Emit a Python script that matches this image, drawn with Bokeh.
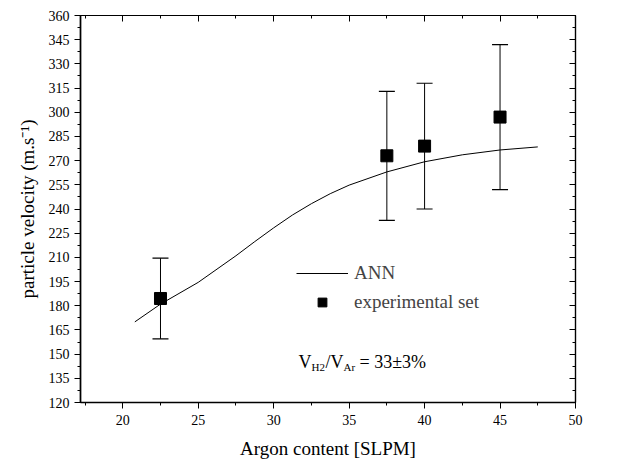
from bokeh.plotting import figure
from bokeh.models import (Range1d, LinearAxis, SingleIntervalTicker, Whisker, TeeHead,
                          ColumnDataSource, Legend, LegendItem, Label, CustomJSTickFormatter)
from bokeh.embed import file_html
from bokeh.resources import INLINE

# ---- data ----
ann_x = [20.8, 22.5, 25.0, 27.5, 28.75, 30.0, 31.25, 32.5, 33.75, 35.0, 37.5, 40.0, 42.5, 45.0, 47.5]
ann_y = [170.0, 181.0, 194.5, 211.0, 219.8, 228.3, 236.3, 243.3, 249.5, 254.8, 263.0, 269.3, 273.6, 276.6, 278.5]
exp_x = [22.5, 37.5, 40.0, 45.0]
exp_y = [184.5, 273.0, 279.0, 297.0]
exp_err = [25.0, 40.0, 39.0, 45.0]

X0, X1 = 17.2, 50.0
Y0, Y1 = 120.0, 360.0
FONT = "Liberation Serif"

W, H = 642, 466
FL, FR, FT, FB = 80, 575, 15, 402

p = figure(width=W, height=H, output_backend="svg", toolbar_location=None,
           x_range=Range1d(X0, X1), y_range=Range1d(Y0, Y1),
           min_border_left=FL, min_border_right=W - FR,
           min_border_top=FT, min_border_bottom=H - FB,
           x_axis_label="Argon content [SLPM]",
           y_axis_label="particle velocity (m.s\u207b\u00b9)")
p.grid.visible = False
p.outline_line_color = "black"
p.outline_line_width = 1.2
p.background_fill_color = "white"
p.border_fill_color = "white"

p.xaxis.ticker = SingleIntervalTicker(interval=5, num_minor_ticks=2)
p.yaxis.ticker = SingleIntervalTicker(interval=15, num_minor_ticks=2)

for ax in (p.xaxis[0], p.yaxis[0]):
    ax.axis_line_width = 1.6
    ax.axis_line_color = "black"
    ax.major_tick_line_color = "black"
    ax.minor_tick_line_color = "black"
    ax.major_tick_in = 0
    ax.major_tick_out = 6
    ax.minor_tick_in = 0
    ax.minor_tick_out = 3
    ax.major_label_text_font = FONT
    ax.major_label_text_font_size = "14px"
    ax.major_label_text_color = "black"
    ax.axis_label_text_font = FONT
    ax.axis_label_text_font_size = "19px"
    ax.axis_label_text_font_style = "normal"
    ax.axis_label_text_color = "black"
p.xaxis.axis_label_standoff = 10
p.yaxis.axis_label_standoff = 8
p.xaxis.major_label_standoff = 6

for loc in ("above", "right"):
    ax = LinearAxis(ticker=SingleIntervalTicker(interval=(5 if loc == "above" else 15), num_minor_ticks=2),
                    formatter=CustomJSTickFormatter(code="return ''"))
    ax.major_tick_in = 6
    ax.major_tick_out = 0
    ax.minor_tick_in = 3
    ax.minor_tick_out = 0
    ax.axis_line_width = 1.2
    ax.major_label_standoff = 0
    p.add_layout(ax, loc)

# ANN curve
ann = p.line(ann_x, ann_y, line_color="black", line_width=1)

# error bars
lower = [v - e for v, e in zip(exp_y, exp_err)]
upper = [v + e for v, e in zip(exp_y, exp_err)]
src = ColumnDataSource(dict(x=exp_x, y=exp_y, lo=lower, hi=upper))
wh = Whisker(source=src, base="x", lower="lo", upper="hi", line_color="black", line_width=1,
             upper_head=TeeHead(size=16, line_color="black", line_width=1.2),
             lower_head=TeeHead(size=16, line_color="black", line_width=1.2))
p.add_layout(wh)
sq = p.scatter("x", "y", source=src, marker="square", size=12, fill_color="black", line_color="black")

legend = Legend(items=[LegendItem(label="ANN", renderers=[ann]),
                       LegendItem(label="experimental set", renderers=[sq])],
                location=(296 - FL, FB - 313), glyph_width=52, glyph_height=22,
                spacing=7, padding=0, margin=0, label_standoff=6,
                label_text_font=FONT, label_text_font_size="19px",
                border_line_color=None, background_fill_alpha=0)
p.add_layout(legend, "center")


def dx(px):
    return X0 + (px - FL) * (X1 - X0) / (FR - FL)


def dy(py):
    return Y1 - (py - FT) * (Y1 - Y0) / (FB - FT)


def lab(text, px, py, size):
    p.add_layout(Label(x=dx(px), y=dy(py), text=text, text_font=FONT, text_font_size=size,
                       text_baseline="alphabetic", text_align="left", text_color="black"))


lab("V", 298, 361, "18px")
lab("H2", 311, 366, "11px")
lab("/V", 325, 361, "18px")
lab("Ar", 343, 366, "11px")
lab("= 33\u00b13%", 359, 361, "18px")
lab("(a)", 66, 458, "13px")

open("out.html", "w").write(file_html(p, INLINE))
